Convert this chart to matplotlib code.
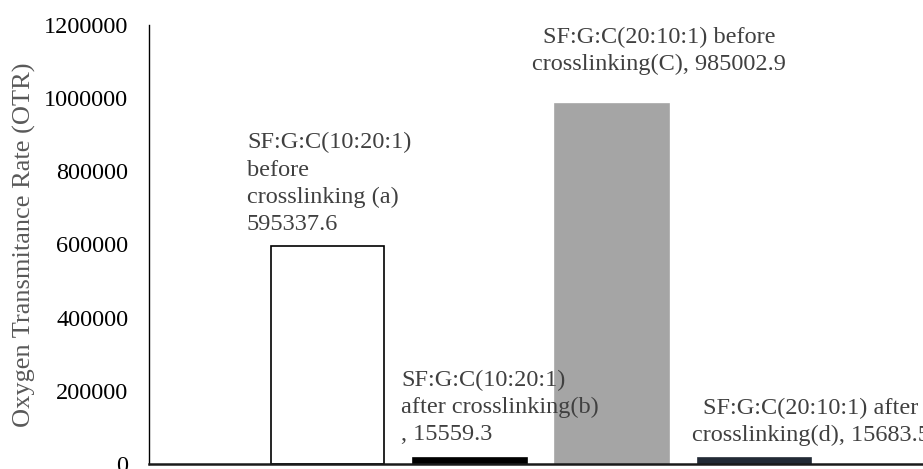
import matplotlib
matplotlib.use("Agg")
import matplotlib.pyplot as plt

# Oxygen transmittance rate of SF:G:C films before / after crosslinking
samples = ["a", "b", "C", "d"]
otr_values = [595337.6, 15559.3, 985002.9, 15683.5]
bar_colors = ["#FFFFFF", "#000000", "#A5A5A5", "#222A35"]
bar_edges = ["#000000", "#000000", "#A5A5A5", "#222A35"]
y_ticks = [0, 200000, 400000, 600000, 800000, 1000000, 1200000]
annotations = [
    "SF:G:C(10:20:1)\nbefore\ncrosslinking (a)\n595337.6",
    "SF:G:C(10:20:1)\nafter crosslinking(b)\n, 15559.3",
    "SF:G:C(20:10:1) before\ncrosslinking(C), 985002.9",
    "SF:G:C(20:10:1) after\ncrosslinking(d), 15683.5",
]

plt.rcParams["font.family"] = ["Liberation Serif", "DejaVu Serif"]

fig = plt.figure(figsize=(9.23, 4.69), dpi=100)
ax = fig.add_axes([149 / 923, 5 / 469, 1 - 149 / 923, (464 - 25) / 469])

x = list(range(len(otr_values)))
ax.bar(x, otr_values, width=0.8, color=bar_colors, edgecolor=bar_edges,
       linewidth=1.2, zorder=2)

ax.set_xlim(-1.254, 4.184)
ax.set_ylim(0, 1200000)
ax.set_yticks(y_ticks)
ax.set_yticklabels([str(v) for v in y_ticks])
ax.set_xticks([])
ax.tick_params(axis="y", length=0, pad=15, labelsize=17.5, labelcolor="#000000")

for side in ("top", "right"):
    ax.spines[side].set_visible(False)
ax.spines["left"].set_color("#000000")
ax.spines["left"].set_linewidth(1.0)
ax.spines["bottom"].set_color("#1a1a1a")
ax.spines["bottom"].set_linewidth(1.8)
ax.spines["bottom"].set_zorder(3)

ax.set_ylabel("Oxygen Transmitance Rate (OTR)", fontsize=19, color="#595959")
ax.yaxis.set_label_coords(-0.146, 0.5)

# data labels; y gives the baseline of each label's last line
text_color = "#404040"
label_style = dict(fontsize=17.5, color=text_color, linespacing=1.38,
                   va="baseline")
ax.text(-0.566, 639600, annotations[0], ha="left", **label_style)
ax.text(0.5165, 65600, annotations[1], ha="left", **label_style)
ax.text(2.33, 1077000, annotations[2], ha="center", **label_style)
ax.text(3.395, 62900, annotations[3], ha="center", **label_style)

fig.savefig("out.png", dpi=100)
